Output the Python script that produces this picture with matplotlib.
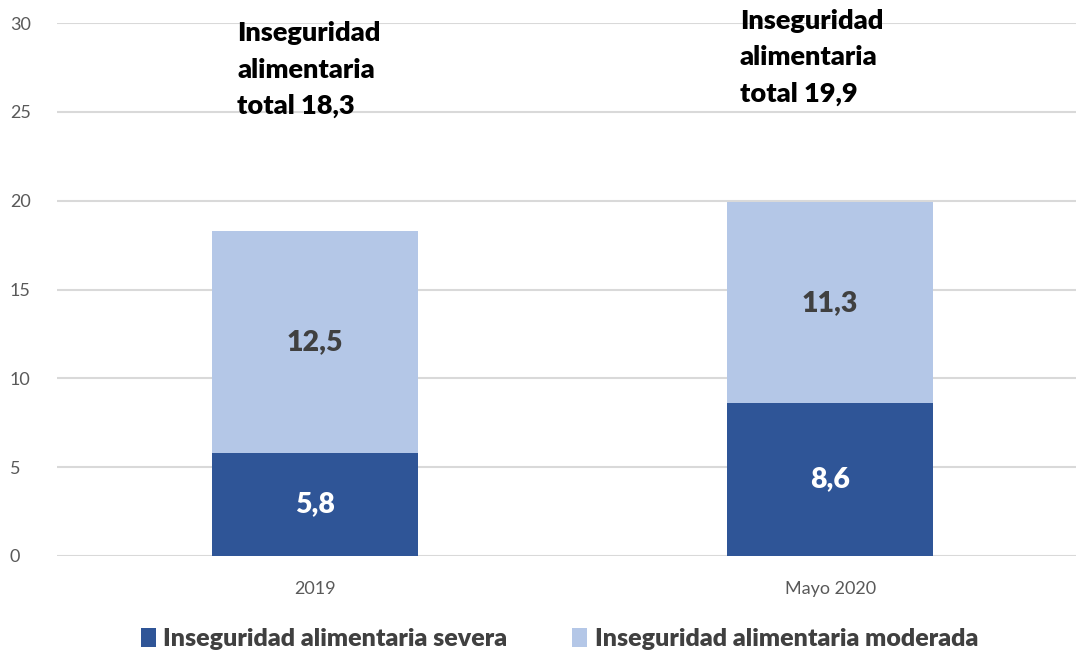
import matplotlib
matplotlib.use('Agg')
import matplotlib.pyplot as plt
import numpy as np

plt.rcParams['font.family'] = ['Lato', 'DejaVu Sans']

categorias = ['2019', 'Mayo 2020']
severa = [5.8, 8.6]
moderada = [12.5, 11.3]
totales = [18.3, 19.9]
etiquetas_total = ['Inseguridad\nalimentaria\ntotal 18,3', 'Inseguridad\nalimentaria\ntotal 19,9']

c_severa = '#2F5597'
c_moderada = '#B4C7E7'

fig = plt.figure(figsize=(10.76, 6.53), dpi=100, facecolor='white')
ax = fig.add_axes([57 / 1076, 97 / 653, 1019 / 1076, 533 / 653])

x = np.arange(len(categorias))
ax.bar(x, severa, width=0.4, color=c_severa, label='Inseguridad alimentaria severa', zorder=3)
ax.bar(x, moderada, width=0.4, bottom=severa, color=c_moderada,
       label='Inseguridad alimentaria moderada', zorder=3)

# etiquetas de valores
for i in range(len(x)):
    ax.text(x[i], severa[i] / 2, str(severa[i]).replace('.', ','), ha='center', va='center',
            color='white', fontsize=20.5, fontweight='heavy', zorder=4)
    ax.text(x[i], severa[i] + moderada[i] / 2, str(moderada[i]).replace('.', ','), ha='center',
            va='center', color='#404040', fontsize=20.5, fontweight='heavy', zorder=4)

# textos de total
ax.text(-0.15, 30.1, etiquetas_total[0], ha='left', va='top', fontsize=19.5, fontweight='heavy',
        color='black', linespacing=1.62, zorder=5)
ax.text(0.825, 30.8, etiquetas_total[1], ha='left', va='top', fontsize=19.5, fontweight='heavy',
        color='black', linespacing=1.62, zorder=5)

ax.set_xlim(-0.5, 1.477)
ax.set_ylim(0, 30)
ax.set_yticks(np.arange(0, 31, 5))
ax.set_xticks(x)
ax.set_xticklabels(categorias)
ax.tick_params(axis='both', length=0, labelsize=13, colors='#595959')
ax.tick_params(axis='x', pad=18)
ax.tick_params(axis='y', pad=34)
for lab in ax.get_yticklabels():
    lab.set_horizontalalignment('left')
ax.grid(axis='y', color='#D9D9D9', linewidth=1.5, zorder=0)
for s in ax.spines.values():
    s.set_visible(False)

leg = fig.legend(loc='lower center', bbox_to_anchor=(0.52, -0.03), ncol=2, frameon=False,
                 handlelength=0.6, handleheight=0.8, handletextpad=0.3, columnspacing=2.6,
                 prop={'size': 18, 'weight': 'heavy'})
for t in leg.get_texts():
    t.set_color('#404040')

fig.savefig('out.png', dpi=100)
